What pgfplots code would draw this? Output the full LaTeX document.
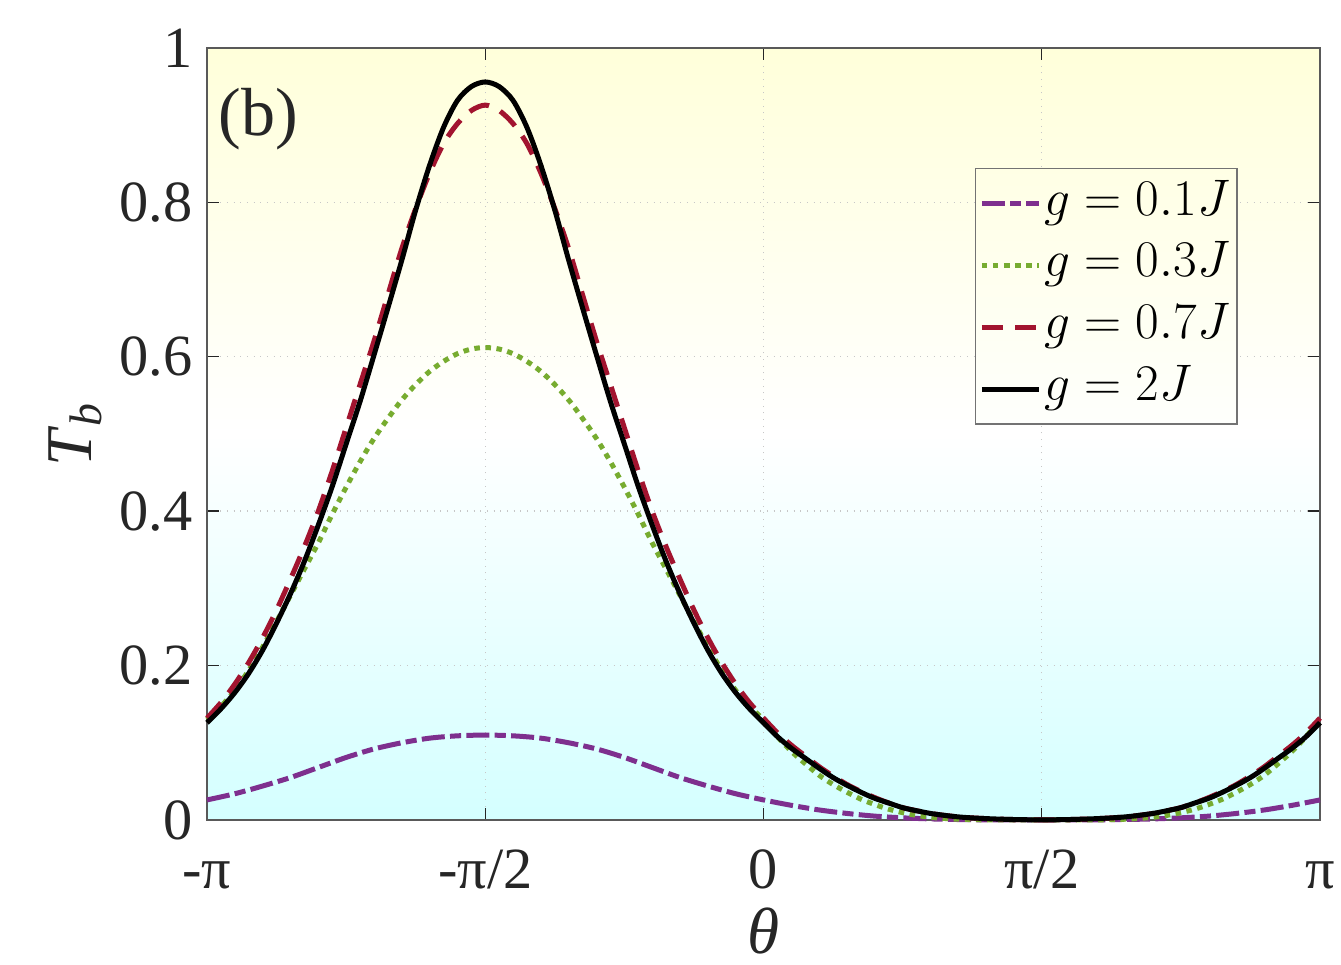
\documentclass[border=0pt]{standalone}
\usepackage{fix-cm}
\usepackage{fontspec}
\setmainfont{Liberation Serif}
\usepackage{pgfplots}
\pgfplotsset{compat=1.18}
\usepackage{pgfplotstable}

\definecolor{cpur}{HTML}{7E2F8E}
\definecolor{cgrn}{HTML}{77AC30}
\definecolor{cred}{HTML}{A2142F}
\definecolor{bgtop}{RGB}{255,255,218}
\definecolor{bgbot}{RGB}{212,255,255}
\definecolor{lgtop}{RGB}{255,255,229}
\definecolor{lgbot}{RGB}{254,255,252}

\pgfplotstableread{
t v
-1.000 0.026
-0.950 0.034
-0.900 0.044
-0.850 0.055
-0.800 0.068
-0.750 0.081
-0.700 0.092
-0.650 0.100
-0.600 0.106
-0.550 0.109
-0.500 0.110
-0.450 0.109
-0.400 0.106
-0.350 0.100
-0.300 0.092
-0.250 0.081
-0.200 0.068
-0.150 0.055
-0.100 0.044
-0.050 0.034
0.000 0.026
0.050 0.019
0.100 0.013
0.150 0.0085
0.200 0.005
0.250 0.0028
0.300 0.0014
0.350 0.0006
0.400 0.0002
0.450 0.0001
0.500 0.0000
0.550 0.0001
0.600 0.0002
0.650 0.0006
0.700 0.0014
0.750 0.0028
0.800 0.005
0.850 0.0085
0.900 0.013
0.950 0.019
1.000 0.026
}\tpur

\pgfplotstableread{
t v
-1.000 0.130
-0.975 0.147
-0.950 0.168
-0.925 0.194
-0.900 0.224
-0.875 0.257
-0.850 0.291
-0.825 0.325
-0.800 0.359
-0.775 0.396
-0.750 0.431
-0.725 0.464
-0.700 0.494
-0.675 0.520
-0.650 0.544
-0.625 0.564
-0.600 0.581
-0.575 0.594
-0.550 0.604
-0.525 0.610
-0.500 0.612
-0.475 0.610
-0.450 0.604
-0.425 0.594
-0.400 0.581
-0.375 0.564
-0.350 0.544
-0.325 0.520
-0.300 0.494
-0.275 0.464
-0.250 0.431
-0.225 0.396
-0.200 0.359
-0.175 0.325
-0.150 0.291
-0.125 0.257
-0.100 0.224
-0.075 0.194
-0.050 0.168
-0.025 0.147
0.000 0.130
0.025 0.108
0.050 0.089
0.075 0.073
0.100 0.058
0.125 0.046
0.150 0.036
0.175 0.027
0.200 0.020
0.225 0.014
0.250 0.0095
0.275 0.006
0.300 0.0035
0.325 0.002
0.350 0.001
0.375 0.0005
0.400 0.0002
0.425 0.0001
0.450 0.0000
0.475 0.0000
0.500 0.0000
0.525 0.0000
0.550 0.0000
0.575 0.0001
0.600 0.0002
0.625 0.0005
0.650 0.001
0.675 0.002
0.700 0.0035
0.725 0.006
0.750 0.0095
0.775 0.014
0.800 0.020
0.825 0.027
0.850 0.036
0.875 0.046
0.900 0.058
0.925 0.073
0.950 0.089
0.975 0.108
1.000 0.130
}\tgrn

\pgfplotstableread{
t v
-1.000 0.132
-0.975 0.152
-0.950 0.176
-0.925 0.204
-0.900 0.236
-0.875 0.272
-0.850 0.312
-0.825 0.354
-0.800 0.400
-0.775 0.452
-0.750 0.508
-0.725 0.564
-0.700 0.620
-0.675 0.680
-0.650 0.740
-0.625 0.792
-0.600 0.838
-0.575 0.876
-0.550 0.902
-0.525 0.919
-0.500 0.926
-0.475 0.919
-0.450 0.902
-0.425 0.876
-0.400 0.838
-0.375 0.792
-0.350 0.740
-0.325 0.680
-0.300 0.620
-0.275 0.564
-0.250 0.508
-0.225 0.452
-0.200 0.400
-0.175 0.354
-0.150 0.312
-0.125 0.272
-0.100 0.236
-0.075 0.204
-0.050 0.176
-0.025 0.152
0.000 0.132
0.025 0.113
0.050 0.097
0.075 0.083
0.100 0.069
0.125 0.057
0.150 0.046
0.175 0.037
0.200 0.029
0.225 0.022
0.250 0.016
0.275 0.012
0.300 0.0085
0.325 0.006
0.350 0.004
0.375 0.0027
0.400 0.0018
0.425 0.0011
0.450 0.0006
0.475 0.0003
0.500 0.0002
0.525 0.0003
0.550 0.0006
0.575 0.0011
0.600 0.0018
0.625 0.0027
0.650 0.004
0.675 0.006
0.700 0.0085
0.725 0.012
0.750 0.016
0.775 0.022
0.800 0.029
0.825 0.037
0.850 0.046
0.875 0.057
0.900 0.069
0.925 0.083
0.950 0.097
0.975 0.113
1.000 0.132
}\tred

\pgfplotstableread{
t v
-1.000 0.126
-0.975 0.144
-0.950 0.165
-0.925 0.190
-0.900 0.220
-0.875 0.255
-0.850 0.293
-0.825 0.335
-0.800 0.382
-0.775 0.432
-0.750 0.487
-0.725 0.542
-0.700 0.602
-0.675 0.663
-0.650 0.725
-0.625 0.790
-0.600 0.848
-0.575 0.897
-0.550 0.932
-0.525 0.950
-0.500 0.956
-0.475 0.950
-0.450 0.932
-0.425 0.897
-0.400 0.848
-0.375 0.790
-0.350 0.725
-0.325 0.663
-0.300 0.602
-0.275 0.542
-0.250 0.487
-0.225 0.432
-0.200 0.382
-0.175 0.335
-0.150 0.293
-0.125 0.255
-0.100 0.220
-0.075 0.190
-0.050 0.165
-0.025 0.144
0.000 0.126
0.025 0.108
0.050 0.093
0.075 0.080
0.100 0.067
0.125 0.055
0.150 0.045
0.175 0.036
0.200 0.028
0.225 0.022
0.250 0.016
0.275 0.012
0.300 0.0085
0.325 0.006
0.350 0.004
0.375 0.0027
0.400 0.0018
0.425 0.0011
0.450 0.0006
0.475 0.0003
0.500 0.0002
0.525 0.0003
0.550 0.0006
0.575 0.0011
0.600 0.0018
0.625 0.0027
0.650 0.004
0.675 0.006
0.700 0.0085
0.725 0.012
0.750 0.016
0.775 0.022
0.800 0.028
0.825 0.036
0.850 0.045
0.875 0.055
0.900 0.067
0.925 0.080
0.950 0.093
0.975 0.108
1.000 0.126
}\tblk

\begin{document}
\begin{tikzpicture}
\begin{axis}[
  name=ax, at={(0pt,0pt)}, anchor=south west,
  scale only axis, width=400.68pt, height=277.92pt,
  xmin=-1, xmax=1, ymin=0, ymax=1,
  clip=false,
  xtick={-1,-0.5,0,0.5,1},
  xticklabels={-π,-π/2,0,π/2,π},
  ytick={0,0.2,0.4,0.6,0.8,1},
  yticklabels={0,0.2,0.4,0.6,0.8,1},
  tick align=inside, tick pos=both,
  major tick length=4.3pt,
  every tick/.style={black!85, line width=0.5pt},
  axis line style={black!65, line width=0.6pt},
  grid=major,
  grid style={dotted, black!22, line width=0.5pt},
  axis background/.style={shade, top color=bgtop, bottom color=bgbot, middle color=white},
  ticklabel style={font=\fontsize{21}{24}\selectfont, text=black!85},
  xticklabel style={anchor=base, yshift=-24.5pt},
  yticklabel style={xshift=-1.8pt},
  xlabel={\itshape θ},
  ylabel={\textit{T}\textsubscript{\textit{b}}},
  label style={font=\fontsize{23.5}{26}\selectfont, text=black!85},
  xlabel style={at={(axis description cs:0.5,0)}, anchor=north, yshift=-28pt},
  ylabel style={at={(axis description cs:-0.1185,0.5)}, anchor=center},
  legend cell align=left,
  legend image code/.code={\draw[#1] (0pt,0pt) -- (20.5pt,0pt);},
  legend style={at={(rel axis cs:0.926,0.845)}, anchor=north east,
    draw=black!55, line width=0.5pt, top color=lgtop, bottom color=lgbot,
    inner sep=1.4pt, row sep=0pt,
    font=\fontsize{18.5}{22}\selectfont,
    nodes={inner sep=1.2pt, text height=14.2pt, text depth=5.7pt}},
]
\addplot[cpur, line width=1.8pt, smooth, dash pattern=on 8.3pt off 1.9pt on 4pt off 1.9pt] table[x=t,y=v] {\tpur};
\addlegendentry{$g=0.1J$}
\addplot[cgrn, line width=1.8pt, smooth, dash pattern=on 2pt off 2pt] table[x=t,y=v] {\tgrn};
\addlegendentry{$g=0.3J$}
\addplot[cred, line width=1.8pt, smooth, dash pattern=on 7.5pt off 4.5pt] table[x=t,y=v] {\tred};
\addlegendentry{$g=0.7J$}
\addplot[black, line width=1.8pt, smooth] table[x=t,y=v] {\tblk};
\addlegendentry{$g=2J$}
\node[font=\fontsize{24.5}{27}\selectfont, text=black!85] at (rel axis cs:0.046,0.908) {(b)};
\end{axis}
\pgfresetboundingbox
\path (-74.52pt,-52.2pt) rectangle (408.24pt,295.2pt);
\end{tikzpicture}
\end{document}
